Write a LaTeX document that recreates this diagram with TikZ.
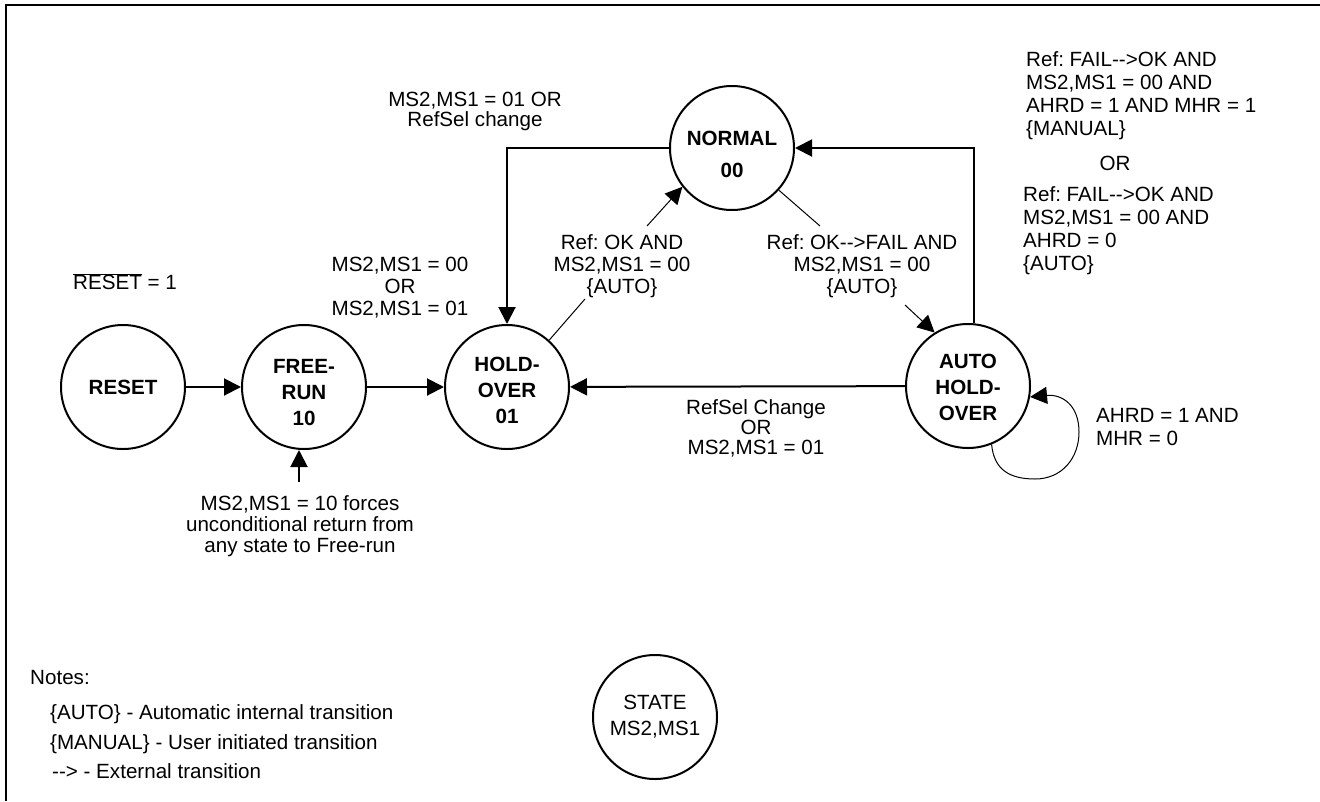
\documentclass[tikz,border=0pt]{standalone}
\usepackage{fontspec}
\setmainfont{Liberation Sans}
\usetikzlibrary{arrows.meta}
\frenchspacing
\newcommand{\txtdrop}[1]{\rule{0pt}{#1}}

\begin{document}
\begin{tikzpicture}[x=1pt,y=-1pt,
  every node/.style={font=\fontsize{20.6}{22}\selectfont},
  state/.style={draw,circle,line width=2pt,minimum size=124pt,inner sep=0pt,align=center,
    font=\fontsize{20.6}{26}\selectfont\bfseries},
  lbl/.style={align=center,inner sep=0pt},
  wire/.style={line width=2pt},
  lead/.style={line width=1pt},
  tip/.style={-{Triangle[length=17pt,width=17pt]}}]
\useasboundingbox (0,0) rectangle (1320,801);
\draw[line width=2pt] (1320,5) -- (5.5,5) -- (5.5,801);

% states
\node[state] (reset) at (123,387) {RESET};
\node[state] (freerun) at (304,387) {\txtdrop{24.5pt}FREE-\\RUN\\10};
\node[state] (holdover) at (507,387) {\txtdrop{21.5pt}HOLD-\\OVER\\01};
\node[state] (normal) at (732,148) {\txtdrop{27pt}NORMAL\\[6pt]00};
\node[state] (autohold) at (968,386) {\txtdrop{18pt}AUTO\\HOLD-\\OVER};
\node[state,font=\fontsize{20.6}{26}\selectfont] (legend) at (655,717) {STATE\\MS2,MS1};

% transition labels
\node[anchor=base west,inner sep=0pt] (resetcond) at (73,289.5) {$\overline{\mbox{RESET}}$ = 1};
\node[lbl] (ctrlcond) at (400,288) {MS2,MS1 = 00\\OR\\MS2,MS1 = 01};
\node[lbl,font=\fontsize{20.6}{20}\selectfont] (selcond) at (475,111) {MS2,MS1 = 01 OR\\RefSel change};
\node[lbl] (okcond) at (622,266) {Ref: OK AND\\MS2,MS1 = 00\\\{AUTO\}};
\node[lbl] (failcond) at (862,266) {Ref: OK-{}->FAIL AND\\MS2,MS1 = 00\\\{AUTO\}};
\node[lbl,font=\fontsize{20.6}{20}\selectfont] (refselcond) at (756,428) {RefSel Change\\OR\\MS2,MS1 = 01};
\node[lbl,align=left,anchor=west,font=\fontsize{20.6}{23}\selectfont] (manualcond) at (1026,95.5)
  {Ref: FAIL-{}->OK AND\\MS2,MS1 = 00 AND\\AHRD = 1 AND MHR = 1\\\{MANUAL\}};
\node[anchor=base,inner sep=0pt] (orcond) at (1115,170.4) {OR};
\node[lbl,align=left,anchor=west,font=\fontsize{20.6}{23}\selectfont] (autocond) at (1023,231)
  {Ref: FAIL-{}->OK AND\\MS2,MS1 = 00 AND\\AHRD = 0\\\{AUTO\}};
\node[lbl,align=left,anchor=west,font=\fontsize{20.6}{23}\selectfont] (loopcond) at (1096,427.5)
  {AHRD = 1 AND\\MHR = 0};
\node[lbl,font=\fontsize{20.6}{21}\selectfont] (forcecond) at (300,526)
  {MS2,MS1 = 10 forces\\unconditional return from\\any state to Free-run};

% notes
\node[anchor=base west,inner sep=0pt] (notes) at (30,684.4) {Notes:};
\node[anchor=base west,inner sep=0pt] (noteauto) at (50,719.4) {\{AUTO\} - Automatic internal transition};
\node[anchor=base west,inner sep=0pt] (notemanual) at (50,749.4) {\{MANUAL\} - User initiated transition};
\node[anchor=base west,inner sep=0pt] (noteext) at (52,778.4) {-{}-> - External transition};

% transitions
\draw[wire,tip] (reset) -- (freerun);
\draw[wire,tip] (freerun) -- (holdover);
\draw[wire,tip] (autohold) -- (holdover);
\draw[wire,tip] (normal.west) -| (holdover.north);
\draw[wire,tip] (autohold.85) |- (normal.east);

\coordinate (forcept) at (299,482);
\draw[wire,tip] (forcept) -- (freerun.south -| forcept);

\coordinate (okfoot) at (585,299);
\coordinate (okhead) at (647,226);
\draw[lead] (holdover.48) -- (okfoot);
\draw[lead,tip] (okhead) -- (normal.218);

\coordinate (failfoot) at (820,226);
\coordinate (failhead) at (905,305);
\draw[lead] (normal.-42) -- (failfoot);
\draw[lead,tip] (failhead) -- (autohold.122);

\draw[lead,tip] (autohold.-68) .. controls (994,470) and (1010,479) .. (1035,479)
  .. controls (1062,479) and (1079,458) .. (1079,432)
  .. controls (1079,405) and (1062,394) .. (autohold.-10);

\end{tikzpicture}
\end{document}
